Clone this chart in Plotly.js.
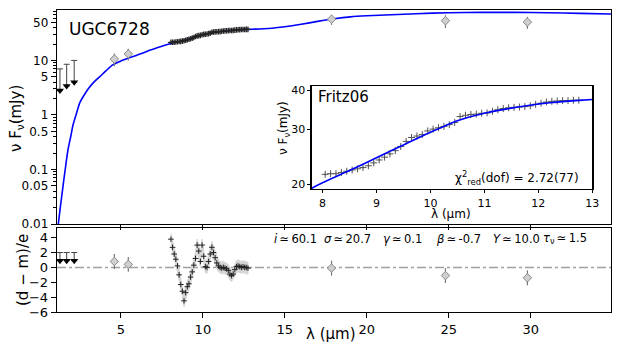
<!DOCTYPE html>
<html>
<head>
<meta charset="utf-8">
<script src="https://cdn.plot.ly/plotly-3.0.1.min.js"></script>
<style>
  body { margin: 0; background: #fff; }
  #sed { width: 623px; height: 346px; }
</style>
</head>
<body>
<div id="sed"></div>
<script>
// best-fit model (blue curve)
const modelWave = [1.18, 1.3, 1.47, 1.6, 1.77, 1.95, 2.08, 2.3, 2.5, 2.75, 3.0, 3.35, 3.7, 4.1, 4.5, 5.0, 5.7, 6.3, 6.8, 7.4,
    8.0, 8.5, 9.0, 9.5, 10.0, 10.5, 11.0, 11.5, 12.0, 12.5, 13.0, 14.0, 15.0, 16.0, 17.0, 18.0, 19.0, 20.0,
    21.5, 23.0, 25.0, 27.0, 29.0, 31.0, 33.0, 35.0];
const modelFlux = [0.01, 0.02, 0.05, 0.1, 0.23, 0.42, 0.66, 1.1, 1.7, 2.3, 3.0, 4.0, 5.0, 6.5, 8.3, 9.8, 11.7, 13.5, 15.5, 17.8,
    20.2, 22.1, 24.3, 26.7, 29.3, 31.9, 33.7, 35.0, 36.1, 36.8, 37.3, 38.5, 41.5, 46, 52, 58, 63, 66,
    69, 72, 75, 76, 76, 75, 73, 71];

// photometry
const photWave = [4.6, 5.45, 17.85, 24.8, 29.8];
const photFlux = [10.6, 13.2, 57, 53.5, 50.5];
const photErr = [2.8, 3.2, 12, 14, 12.5];
const photResid = [0.8, 0.4, -0.1, -1.1, -1.4];
const photResidErr = [1, 1, 1, 1, 1];

// upper limits
const ulWave = [1.28, 1.69, 2.15];
const ulFlux = [7.0, 8.5, 10.0];
const ulResid = [2.0, 2.0, 2.0];

// IRS spectrum (Fritz06 inset)
const specWave = [8.05, 8.15, 8.25, 8.35, 8.45, 8.55, 8.65, 8.75, 8.85, 8.95, 9.05, 9.15, 9.25, 9.35, 9.45, 9.55,
    9.65, 9.75, 9.85, 9.95, 10.05, 10.15, 10.25, 10.35, 10.45, 10.55, 10.65, 10.75, 10.85, 10.95, 11.05, 11.15,
    11.25, 11.35, 11.45, 11.55, 11.65, 11.75, 11.85, 11.95, 12.05, 12.15, 12.25, 12.35, 12.45, 12.55, 12.65, 12.75];
const specFlux = [21.5, 21.6, 21.6, 21.8, 22.0, 22.2, 22.4, 22.6, 22.9, 23.4, 23.9, 24.4, 25.0, 25.6, 26.4, 27.4,
    28.2, 28.5, 28.8, 29.6, 30.0, 30.3, 30.6, 31.0, 31.5, 32.9, 33.2, 33.4, 33.5, 33.7, 33.8, 34.2,
    34.6, 34.9, 35.1, 35.2, 35.3, 35.4, 35.6, 36.0, 36.3, 36.6, 36.8, 36.9, 37.0, 37.0, 37.1, 37.1];
const specResid = [3.8, 2.7, 1.8, 1.1, 0.2, -1.0, -2.3, -3.2, -4.5, -3.4, -2.6, -2.2, -1.3, -0.6, 0.3, 1.2,
    3.0, 2.2, 0.8, 3.0, 1.5, 0.1, 0.0, 0.8, 1.8, 2.7, 2.0, 1.3, 0.6, 0.2, 0.0, -0.1,
    0.0, -0.1, -0.2, -0.4, -0.9, -1.1, -0.9, -0.3, 0.1, 0.2, 0.1, 0.0, 0.1, 0.0, 0.0, -0.1];
const SPEC_ERR = 0.25;
const RESID_BAND = 0.8;
const UL_ARROW = 0.4;   // arrow tip as fraction of the limit (log panel)
const UL_ARROW_RES = 1.1;

const TS = '\u2009';
const fitParams = [
    `<i>i</i>${TS}≃${TS}60.1`, `<i>σ</i>${TS}≃${TS}20.7`, `<i>γ</i>${TS}≃${TS}0.1`,
    `<i>β</i>${TS}≃${TS}-0.7`, `<i>Y</i>${TS}≃${TS}10.0`, `<i>τ</i><sub>ν</sub>${TS}≃${TS}1.5`
];
const fitParamX = [272, 322, 381, 434, 491, 541];

const W = 623, H = 346;
const px = (v) => v / W;
const py = (v) => 1 - v / H;

const blue = '#0000ff';
const grayFill = '#cfcfcf';
const grayLine = '#777777';

const traces = [];

// ---- main panel ----
traces.push({
    x: modelWave, y: modelFlux, xaxis: 'x', yaxis: 'y',
    type: 'scatter', mode: 'lines', line: { color: blue, width: 1.6, shape: 'spline', smoothing: 0.6 }
});
traces.push({
    x: specWave, y: specFlux, xaxis: 'x', yaxis: 'y',
    type: 'scatter', mode: 'markers',
    marker: { symbol: 'cross-thin-open', size: 4, color: '#222', line: { color: '#222', width: 1.3 } }
});
traces.push({
    x: photWave, y: photFlux, xaxis: 'x', yaxis: 'y',
    type: 'scatter', mode: 'markers',
    error_y: { type: 'data', array: photErr, color: grayLine, thickness: 1.2, width: 0 },
    marker: { symbol: 'diamond', size: 6.5, color: grayFill, line: { color: '#888', width: 1 } }
});
traces.push({
    x: ulWave, y: ulFlux.map(v => v * UL_ARROW), xaxis: 'x', yaxis: 'y',
    type: 'scatter', mode: 'markers',
    error_y: { type: 'data', symmetric: false, array: ulFlux.map(v => v * (1 - UL_ARROW)), arrayminus: ulFlux.map(() => 0),
        color: '#444', thickness: 1, width: 3 },
    marker: { symbol: 'triangle-down', size: 7, color: '#000' }
});

// ---- residual panel ----
// shaded band around the spectrum residuals, as one closed polygon
const bandX = specWave.concat(specWave.slice().reverse());
const bandY = specResid.map(v => v + RESID_BAND).concat(specResid.map(v => v - RESID_BAND).reverse());
traces.push({
    x: bandX, y: bandY, xaxis: 'x2', yaxis: 'y2',
    type: 'scatter', mode: 'lines', fill: 'toself', fillcolor: '#d6d6d6',
    line: { width: 1, color: '#d6d6d6' }
});
traces.push({
    x: specWave, y: specResid, xaxis: 'x2', yaxis: 'y2',
    type: 'scatter', mode: 'markers',
    marker: { symbol: 'cross-thin-open', size: 4, color: '#222', line: { color: '#222', width: 1 } }
});
traces.push({
    x: photWave, y: photResid, xaxis: 'x2', yaxis: 'y2',
    type: 'scatter', mode: 'markers',
    error_y: { type: 'data', array: photResidErr, color: grayLine, thickness: 1.2, width: 0 },
    marker: { symbol: 'diamond', size: 6.5, color: grayFill, line: { color: '#888', width: 1 } }
});
traces.push({
    x: ulWave, y: ulResid.map(v => v - UL_ARROW_RES), xaxis: 'x2', yaxis: 'y2',
    type: 'scatter', mode: 'markers',
    error_y: { type: 'data', symmetric: false, array: ulResid.map(() => UL_ARROW_RES), arrayminus: ulResid.map(() => 0),
        color: '#444', thickness: 1, width: 3 },
    marker: { symbol: 'triangle-down', size: 7, color: '#000' }
});

// ---- inset ----
traces.push({
    x: specWave, y: specFlux, xaxis: 'x3', yaxis: 'y3',
    type: 'scatter', mode: 'markers',
    error_y: { type: 'constant', value: SPEC_ERR, color: '#aaa', thickness: 1, width: 0 },
    marker: { symbol: 'cross-thin-open', size: 5, color: '#555', line: { color: '#555', width: 1 } }
});
traces.push({
    x: modelWave, y: modelFlux, xaxis: 'x3', yaxis: 'y3',
    type: 'scatter', mode: 'lines', line: { color: blue, width: 1.6, shape: 'spline', smoothing: 0.6 }
});

// minor log ticks for the main panel
const minorVals = [];
[0.01, 0.1, 1, 10].forEach(d => {
    [2, 3, 4, 6, 7, 8, 9].forEach(k => { if (k * d < 84) minorVals.push(k * d); });
});

const tickFont = { family: 'DejaVu Sans', size: 12, color: '#000' };
const insetFont = { family: 'DejaVu Sans', size: 11, color: '#000' };
const axBase = {
    showgrid: false, zeroline: false, showline: true, mirror: true,
    linecolor: '#000', linewidth: 1.3, ticks: 'outside', ticklen: 5, tickwidth: 1, tickcolor: '#000',
    tickfont: tickFont
};

const xDomain = [px(57), px(611)];
const xRange = [1.1, 34.9];

const layout = {
    width: W, height: H,
    margin: { l: 0, r: 0, t: 0, b: 0 },
    paper_bgcolor: '#fff', plot_bgcolor: '#fff',
    showlegend: false,
    hovermode: false,
    font: { family: 'DejaVu Sans', color: '#000' },
    xaxis: Object.assign({}, axBase, {
        domain: xDomain, range: xRange, anchor: 'y',
        tickmode: 'array', tickvals: [5, 10, 15, 20, 25, 30], showticklabels: false
    }),
    yaxis: Object.assign({}, axBase, {
        domain: [py(224), py(10)], type: 'log', range: [-2, 1.925], anchor: 'x',
        tickmode: 'array',
        tickvals: [0.01, 0.05, 0.1, 0.5, 1, 5, 10, 50],
        ticktext: ['0.01', '0.05', '0.1', '0.5', '1', '5', '10', '50'],
        minor: { tickmode: 'array', tickvals: minorVals, ticks: 'outside', ticklen: 2.5, tickcolor: '#000' }
    }),
    xaxis2: Object.assign({}, axBase, {
        domain: xDomain, range: xRange, anchor: 'y2',
        tickmode: 'array', tickvals: [5, 10, 15, 20, 25, 30], tickfont: { family: 'DejaVu Sans', size: 13, color: '#000' }
    }),
    yaxis2: Object.assign({}, axBase, {
        domain: [py(312), py(228)], range: [-6, 5.3], anchor: 'x2',
        tickmode: 'array', tickvals: [-6, -4, -2, 0, 2, 4], ticktext: ['−6', '−4', '−2', '0', '2', '4'],
        tickfont: { family: 'DejaVu Sans', size: 13, color: '#000' }
    }),
    xaxis3: Object.assign({}, axBase, {
        domain: [px(311.7), px(592.3)], range: [7.8, 13], anchor: 'y3',
        tickmode: 'array', tickvals: [8, 9, 10, 11, 12, 13], ticklen: 3, tickfont: insetFont
    }),
    yaxis3: Object.assign({}, axBase, {
        domain: [py(189), py(86)], type: 'log', range: [Math.log10(19.3), Math.log10(41.2)], anchor: 'x3',
        tickmode: 'array', tickvals: [20, 30, 40], ticklen: 3, tickfont: insetFont
    }),
    shapes: [{
        type: 'line', xref: 'x2', yref: 'y2', x0: xRange[0], x1: xRange[1], y0: 0, y1: 0,
        line: { color: '#a0a0a0', width: 1.5, dash: 'dashdot' }, layer: 'below'
    }],
    annotations: [
        { text: 'UGC6728', xref: 'paper', yref: 'paper', x: px(67), y: py(29), xanchor: 'left', yanchor: 'middle',
          showarrow: false, font: { size: 17 } },
        { text: 'Fritz06', xref: 'paper', yref: 'paper', x: px(316), y: py(97), xanchor: 'left', yanchor: 'middle',
          showarrow: false, font: { size: 15 } },
        { text: 'χ<sup>2</sup><sub>red</sub>(dof) = 2.72(77)', xref: 'paper', yref: 'paper', x: px(581), y: py(178),
          xanchor: 'right', yanchor: 'middle', showarrow: false, font: { size: 12 } },
        { text: 'ν F<sub>ν</sub>(mJy)', xref: 'paper', yref: 'paper', x: px(16), y: py(119), textangle: -90,
          xanchor: 'center', yanchor: 'middle', showarrow: false, font: { size: 15 } },
        { text: '(d − m)/e', xref: 'paper', yref: 'paper', x: px(23), y: py(270), textangle: -90,
          xanchor: 'center', yanchor: 'middle', showarrow: false, font: { size: 15 } },
        { text: 'λ (μm)', xref: 'paper', yref: 'paper', x: px(331), y: py(334),
          xanchor: 'center', yanchor: 'middle', showarrow: false, font: { size: 15 } },
        { text: 'ν F<sub>ν</sub>(mJy)', xref: 'paper', yref: 'paper', x: px(284), y: py(128), textangle: -90,
          xanchor: 'center', yanchor: 'middle', showarrow: false, font: { size: 12 } },
        { text: 'λ (μm)', xref: 'paper', yref: 'paper', x: px(451), y: py(214),
          xanchor: 'center', yanchor: 'middle', showarrow: false, font: { size: 12 } }
    ].concat(fitParams.map((t, i) => ({
        text: t, xref: 'paper', yref: 'paper', x: px(fitParamX[i]), y: py(238.5),
        xanchor: 'left', yanchor: 'middle', showarrow: false, font: { size: 11.5 }
    })))
};

Plotly.newPlot('sed', traces, layout, { staticPlot: true, displayModeBar: false });
</script>
</body>
</html>
